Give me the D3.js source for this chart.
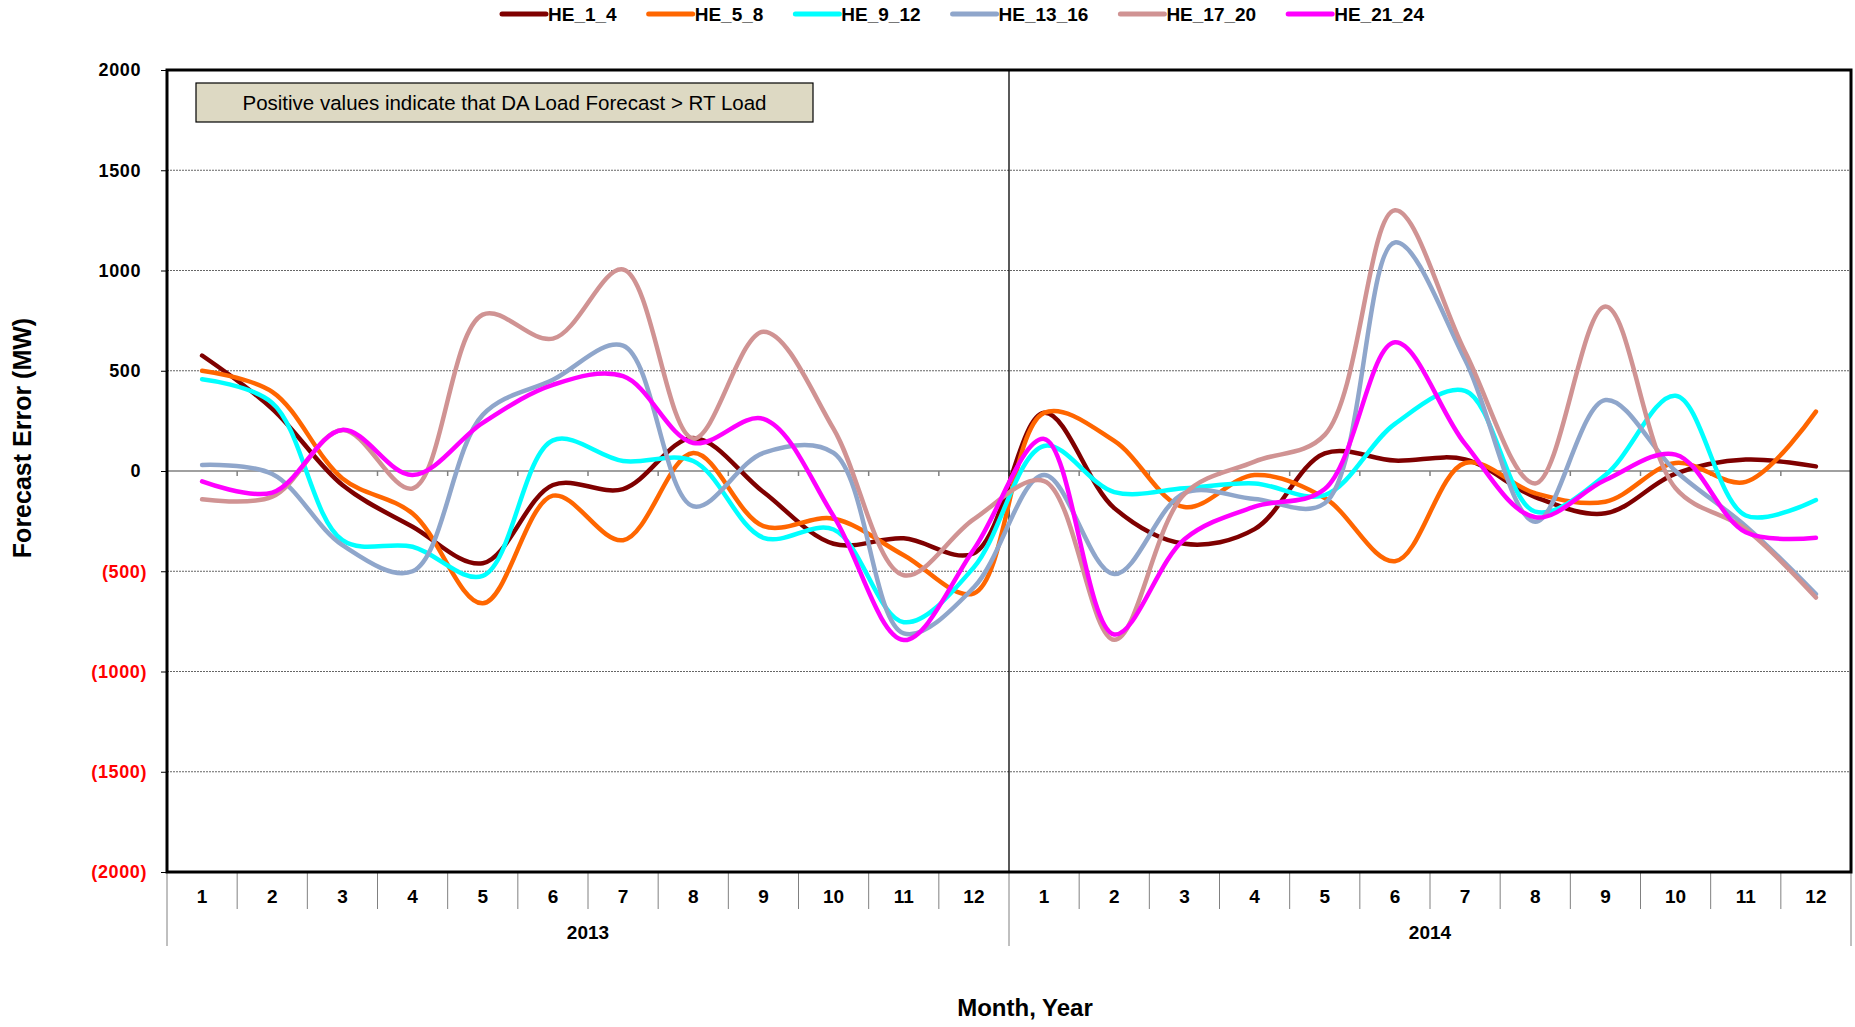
<!DOCTYPE html>
<html>
<head>
<meta charset="utf-8">
<script src="https://d3js.org/d3.v7.min.js"></script>
<style>
  html, body { margin: 0; padding: 0; background: #ffffff; }
  svg { display: block; }
</style>
</head>
<body>
<svg id="chart" width="1855" height="1027"></svg>
<script>
// ---------- DATA ----------
const months = ["1","2","3","4","5","6","7","8","9","10","11","12","1","2","3","4","5","6","7","8","9","10","11","12"];
const years = ["2013", "2014"];
const seriesNames = ["HE_1_4", "HE_5_8", "HE_9_12", "HE_13_16", "HE_17_20", "HE_21_24"];
const he_1_4   = [576, 310, -70, -278, -460, -70, -90, 165, -105, -363, -336, -410, 290, -185, -363, -290, 88, 52, 58, -130, -211, -13, 57, 23];
const he_5_8   = [500, 395, -37, -212, -660, -123, -345, 90, -275, -238, -420, -610, 290, 150, -180, -20, -135, -450, 40, -111, -153, 40, -54, 296];
const he_9_12  = [458, 340, -345, -378, -523, 153, 50, 50, -333, -292, -754, -480, 125, -105, -86, -62, -120, 235, 400, -203, -20, 375, -222, -145];
const he_13_16 = [30, -15, -370, -500, 280, 455, 625, -176, 90, 90, -810, -580, -20, -514, -110, -140, -161, 1140, 555, -253, 354, 0, -275, -614];
const he_17_20 = [-141, -128, 205, -87, 780, 660, 1005, 162, 695, 210, -520, -240, -50, -842, -115, 47, 180, 1300, 595, -62, 820, -86, -290, -631];
const he_21_24 = [-52, -108, 205, -20, 240, 430, 473, 140, 260, -225, -843, -390, 160, -815, -340, -178, -90, 642, 135, -231, -45, 82, -306, -333];
const yTicks = [-2000, -1500, -1000, -500, 0, 500, 1000, 1500, 2000];
const seriesColors = ["#7f0000", "#ff6600", "#00ffff", "#8fa6cb", "#d09393", "#ff00ff"];
const noteText = "Positive values indicate that DA Load Forecast > RT Load";

const seriesValues = [he_1_4, he_5_8, he_9_12, he_13_16, he_17_20, he_21_24];

// ---------- LAYOUT ----------
const L = 167, R = 1851, T = 70, B = 872;
const svg = d3.select("#chart");
const idx = d3.range(months.length);

const x = d3.scaleBand().domain(idx).range([L, R]).padding(0);
const y = d3.scaleLinear().domain([-2000, 2000]).range([B, T]);
const xc = i => x(i) + x.bandwidth() / 2;

const boldFont = "'Liberation Sans', Arial, sans-serif";
const narrowFont = "'Liberation Sans Narrow', 'Arial Narrow', 'Liberation Sans', Arial, sans-serif";

// gridlines (dotted)
svg.append("g").selectAll("line").data(yTicks.filter(v => v !== 0 && v !== 2000 && v !== -2000))
  .join("line")
  .attr("x1", L).attr("x2", R)
  .attr("y1", d => y(d)).attr("y2", d => y(d))
  .attr("stroke", "#666").attr("stroke-width", 1)
  .attr("stroke-dasharray", "2,1");

// y axis ticks + labels
const yAxis = d3.axisLeft(y).tickValues(yTicks).tickSize(6).tickPadding(14)
  .tickFormat(v => v < 0 ? "(" + Math.abs(v) + ")" : String(v));
const gy = svg.append("g").attr("transform", `translate(${L},0)`).call(yAxis);
gy.select(".domain").remove();
gy.selectAll(".tick line").attr("stroke", "#000");
gy.selectAll(".tick text")
  .attr("font-family", boldFont).attr("font-weight", "bold").attr("font-size", 18)
  .attr("letter-spacing", "0.6px")
  .attr("x", d => d < 0 ? -20 : -26)
  .attr("fill", d => d < 0 ? "#ff0000" : "#000");

// zero line with category boundary ticks
svg.append("line").attr("x1", L).attr("x2", R).attr("y1", y(0)).attr("y2", y(0))
  .attr("stroke", "#808080").attr("stroke-width", 1.5);
svg.append("g").selectAll("line").data(d3.range(1, months.length))
  .join("line")
  .attr("x1", d => x(d)).attr("x2", d => x(d))
  .attr("y1", y(0)).attr("y2", y(0) + 5)
  .attr("stroke", "#808080").attr("stroke-width", 1.5);

// year divider in plot
svg.append("line").attr("x1", x(12)).attr("x2", x(12)).attr("y1", T).attr("y2", B)
  .attr("stroke", "#000").attr("stroke-width", 1.3);

// category axis below plot
const sepG = svg.append("g");
sepG.selectAll("line").data(d3.range(0, months.length + 1))
  .join("line")
  .attr("x1", d => d === months.length ? R : x(d))
  .attr("x2", d => d === months.length ? R : x(d))
  .attr("y1", B).attr("y2", d => (d % 12 === 0) ? 946 : 909)
  .attr("stroke", "#808080").attr("stroke-width", 1);

const xAxis = d3.axisBottom(x).tickSize(0).tickPadding(0).tickFormat(i => months[i]);
const gx = svg.append("g").attr("transform", `translate(0,${B + 17})`).call(xAxis);
gx.select(".domain").remove();
gx.selectAll(".tick text")
  .attr("font-family", narrowFont).attr("font-weight", "bold").attr("font-size", 19)
  .attr("fill", "#000").attr("dy", "0.71em").attr("y", 0);

svg.append("g").selectAll("text").data(years).join("text")
  .attr("x", (d, i) => (x(i * 12) + (i === 1 ? R : x(12))) / 2)
  .attr("y", 939)
  .attr("text-anchor", "middle")
  .attr("font-family", narrowFont).attr("font-weight", "bold").attr("font-size", 19)
  .text(d => d);

// plot frame
svg.append("rect").attr("x", L).attr("y", T).attr("width", R - L).attr("height", B - T)
  .attr("fill", "none").attr("stroke", "#000").attr("stroke-width", 3);

// note box
const noteG = svg.append("g");
noteG.append("rect").attr("x", 196).attr("y", 83).attr("width", 617).attr("height", 39)
  .attr("fill", "#ddd9c3").attr("stroke", "#000").attr("stroke-width", 1.2);
noteG.append("text").attr("x", 196 + 617 / 2).attr("y", 110)
  .attr("text-anchor", "middle")
  .attr("font-family", boldFont).attr("font-size", 20.5).attr("fill", "#000")
  .text(noteText);

// series lines
const line = d3.line()
  .x((d, i) => xc(i))
  .y(d => y(d))
  .curve(d3.curveCatmullRom.alpha(0.5));

svg.append("g").selectAll("path").data(seriesValues).join("path")
  .attr("d", d => line(d))
  .attr("fill", "none")
  .attr("stroke", (d, i) => seriesColors[i])
  .attr("stroke-width", 4.5)
  .attr("stroke-linecap", "round")
  .attr("stroke-linejoin", "round");

// legend
const lg = svg.append("g");
let lx = 502;
seriesNames.forEach((name, i) => {
  lg.append("line").attr("x1", lx).attr("x2", lx + 44).attr("y1", 14).attr("y2", 14)
    .attr("stroke", seriesColors[i]).attr("stroke-width", 5).attr("stroke-linecap", "round");
  const t = lg.append("text").attr("x", lx + 46).attr("y", 21)
    .attr("font-family", narrowFont).attr("font-weight", "bold").attr("font-size", 19)
    .text(name);
  lx += 46 + t.node().getComputedTextLength() + 32;
});

// axis titles
svg.append("text")
  .attr("transform", "translate(31,438) rotate(-90)")
  .attr("text-anchor", "middle")
  .attr("font-family", narrowFont).attr("font-weight", "bold").attr("font-size", 25)
  .text("Forecast Error (MW)");

svg.append("text")
  .attr("x", 1025).attr("y", 1016)
  .attr("text-anchor", "middle")
  .attr("font-family", boldFont).attr("font-weight", "bold").attr("font-size", 24)
  .text("Month, Year");
</script>
</body>
</html>
